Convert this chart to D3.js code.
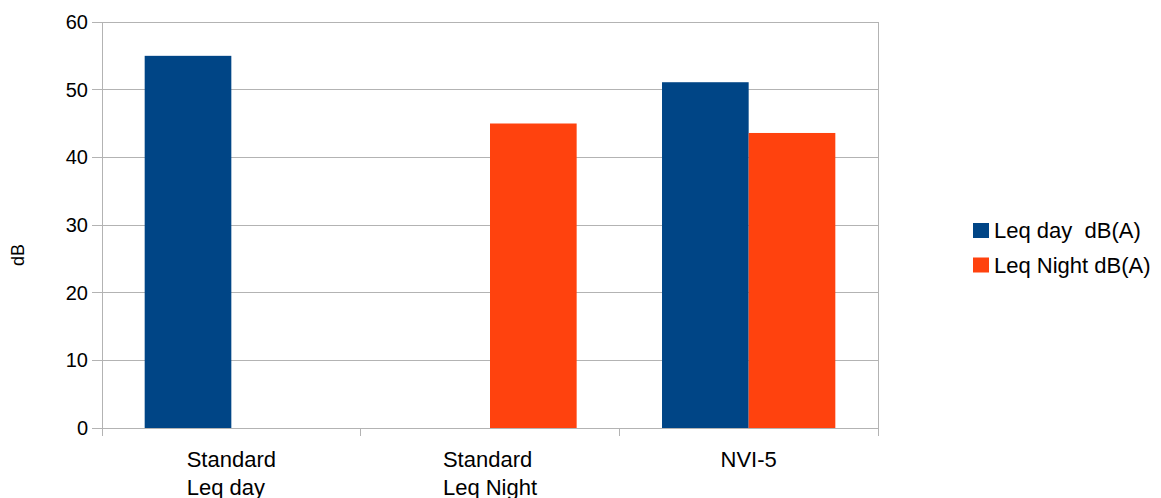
<!DOCTYPE html>
<html><head><meta charset="utf-8">
<script src="https://cdn.jsdelivr.net/npm/d3@7"></script>
<style>body{margin:0;background:#fff}svg{display:block}text{font-family:"Liberation Sans",Arial,sans-serif;fill:#000}</style>
</head><body><svg id="c" width="1161" height="498"></svg>
<script>
const categories = [["Standard","Leq day"],["Standard","Leq Night"],["NVI-5"]];
const seriesNames = ["Leq day  dB(A)","Leq Night dB(A)"];
const dayValues = [55, null, 51.1];
const nightValues = [null, 45, 43.6];
const yTicks = [0,10,20,30,40,50,60];
const colors = ["#004586","#ff420e"];

const svg = d3.select("#c");
const m = {l:102, r:878, t:22, b:428};
const catIdx = categories.map((d,i)=>i);
const x = d3.scaleBand().domain(catIdx).range([m.l,m.r]).paddingInner(0.33).paddingOuter(0.165);
const x0 = d3.scaleBand().domain(catIdx).range([m.l,m.r]);
const xs = d3.scaleBand().domain([0,1]).range([0,x.bandwidth()]);
const y = d3.scaleLinear().domain([0,60]).range([m.b,m.t]);

svg.append("g").selectAll("line").data(yTicks).join("line")
  .attr("x1",m.l-10).attr("x2",m.r).attr("y1",d=>y(d)).attr("y2",d=>y(d))
  .attr("stroke","#b3b3b3").attr("stroke-width",1).attr("shape-rendering","crispEdges");
svg.append("line").attr("x1",m.r).attr("x2",m.r).attr("y1",m.t).attr("y2",m.b)
  .attr("stroke","#b3b3b3").attr("shape-rendering","crispEdges");
svg.append("line").attr("x1",m.l).attr("x2",m.l).attr("y1",m.t).attr("y2",m.b+8)
  .attr("stroke","#b3b3b3").attr("shape-rendering","crispEdges");
svg.append("g").selectAll("line").data(catIdx.slice(1).concat([3])).join("line")
  .attr("x1",d=>d<3?x0(d):m.r).attr("x2",d=>d<3?x0(d):m.r).attr("y1",m.b).attr("y2",m.b+8)
  .attr("stroke","#b3b3b3").attr("shape-rendering","crispEdges");

svg.append("g").selectAll("text").data(yTicks).join("text")
  .attr("x",m.l-14).attr("y",d=>y(d)).attr("dy","0.35em").attr("text-anchor","end")
  .attr("font-size",20).text(d=>d);

const series = [dayValues, nightValues];
series.forEach((vals,si)=>{
  svg.append("g").selectAll("rect").data(vals.map((v,i)=>({v,i})).filter(d=>d.v!=null)).join("rect")
    .attr("x",d=>x(d.i)+xs(si)).attr("width",xs.bandwidth())
    .attr("y",d=>y(d.v)).attr("height",d=>y(0)-y(d.v)).attr("fill",colors[si]);
});

categories.forEach((lines,i)=>{
  const cx = x0(i)+x0.bandwidth()/2;
  const g = svg.append("g");
  const t = g.append("text").attr("font-size",22);
  lines.forEach((l,j)=>t.append("tspan").attr("x",0).attr("y",467+j*28).text(l));
  const w = t.node().getBBox().width;
  t.attr("transform",`translate(${cx-w/2},0)`);
});

svg.append("text").attr("transform","translate(24,255) rotate(-90)").attr("text-anchor","middle")
  .attr("font-size",18).text("dB");

seriesNames.forEach((n,i)=>{
  const yy = 230.5+i*34.5;
  svg.append("rect").attr("x",973).attr("y",yy-7.5).attr("width",16).attr("height",15).attr("fill",colors[i]);
  svg.append("text").attr("x",994).attr("y",yy).attr("dy","0.35em").attr("font-size",22).text(n).style("white-space","pre");
});
</script></body></html>
